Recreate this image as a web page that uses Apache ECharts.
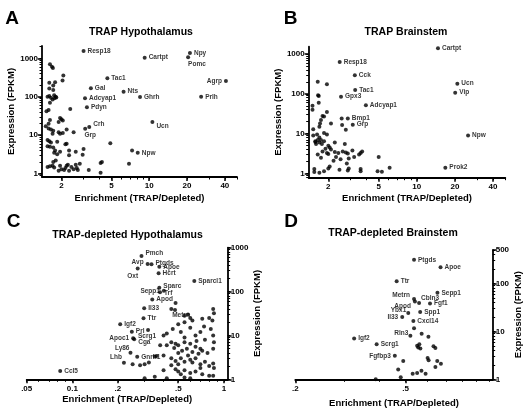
<!DOCTYPE html>
<html><head><meta charset="utf-8">
<script src="https://cdn.jsdelivr.net/npm/echarts@6/dist/echarts.min.js"></script>
<style>html,body{margin:0;padding:0;background:#fff}#c{width:525px;height:414px}</style>
</head><body><div id="c"></div>
<script>
// ---------------- DATA ----------------
// Panel A: TRAP Hypothalamus (labelled genes)
const namesA  = ['Resp18','Cartpt','Npy','Pomc','Agrp','Prlh','Tac1','Gal','Nts','Adcyap1','Ghrh','Pdyn','Crh','Grp','Ucn','Npw'];
const enrichA = [3.0, 9.2, 21.1, 20.4, 40.8, 25.9, 4.64, 3.43, 6.25, 3.08, 8.45, 3.19, 3.33, 3.09, 10.6, 8.1];
const exprA   = [1550, 1040, 1380, 1070, 257, 100, 302, 166, 136, 91, 99, 53, 16.4, 14.8, 22, 3.5];
// Panel A: other genes [enrichment, expression]
const otherA = [[1.62,700],[1.68,600],[1.71,560],[2.07,360],[2.04,265],[1.6,230],[1.72,195],[1.78,240],[1.6,165],[1.72,150],
 [1.55,100],[1.6,105],[1.65,95],[1.75,110],[1.8,100],[1.7,85],[1.76,92],[1.62,70],[1.82,96],
 [1.52,42],[1.58,45],[2.35,48],
 [1.95,28],[2.0,26],[1.9,22],[2.05,24],[1.62,25],[1.58,20],
 [1.5,17],[1.58,15],[1.65,14],[1.72,13],[1.7,11],[1.9,12],[1.95,11],[2.05,11.5],[2.2,14],[2.5,12],
 [1.55,7.5],[1.6,7],[1.65,6.5],[1.62,5],[1.55,5.2],[1.72,4.8],[1.78,4],[1.85,6.8],[2.2,6],[2.15,5.8],
 [1.75,3.5],[1.85,3.2],[1.95,3.7],[2.3,4],[2.3,3],[2.6,3.7],[2.95,3.1],[3.0,4.4],[4.9,6.2],[7.3,4.0],[6.9,1.8],[4.1,1.9],[4.2,2.0],
 [1.55,1.5],[1.62,1.55],[1.7,1.6],[1.75,1.45],[1.72,2.0],[1.95,1.6],[2.0,1.3],[2.1,1.25],[2.15,1.4],[2.2,1.6],[2.3,1.2],[2.4,1.5],
 [2.5,1.3],[2.6,1.7],[2.65,1.4],[2.7,1.25],[3.3,1.25],[4.1,1.05],[1.9,1.2],[2.25,1.7],[2.8,1.8],[1.8,2.2]];

// Panel B: TRAP Brainstem
const namesB  = ['Cartpt','Resp18','Cck','Ucn','Tac1','Vip','Gpx3','Adcyap1','Bmp1','Grp','Npw','Prok2'];
const enrichB = [14.7, 2.46, 3.24, 20.9, 3.26, 20.1, 2.52, 3.96, 2.85, 3.12, 25.4, 16.8];
const exprB   = [1390, 630, 293, 180, 125, 107, 85, 52, 24, 16.9, 9.0, 1.41];
const otherB = [[1.65,200],[1.95,175],[1.66,92],[1.68,88],[1.68,60],[1.5,50],[1.5,40],[1.95,35],[1.8,28],[1.85,27],[1.75,22],[1.72,18],
 [1.7,15],[1.52,13],[2.1,18],[2.55,24],[2.57,16.5],[2.75,12.5],[1.52,9],[1.63,9.5],[1.85,10.5],[1.95,9.5],[1.58,6.5],[1.65,7],
 [1.7,6],[1.78,5.5],[1.85,6.5],[2.0,5],[2.05,4.5],[2.25,6],[2.7,5.5],[1.65,3],[1.8,3.6],[1.95,3.3],[2.1,4],[2.25,3.5],[2.4,3.3],
 [2.6,3.6],[2.75,3.4],[2.85,3.2],[3.1,3.8],[3.5,3],[3.6,3.3],[3.7,3.6],[2.3,2.6],[2.5,2.3],[2.9,2.4],[3.2,2.6],[2.8,1.8],[5.0,2.6],
 [1.55,1.3],[1.55,1.1],[1.7,1.05],[1.85,1.15],[2.0,1.35],[2.05,1.5],[2.45,1.25],[2.85,1.2],[2.9,1.35],[3.6,1.3],[3.6,1.15],
 [4.9,1.15],[5.3,1.12],[6.1,1.4],[1.75,2.5],[2.2,2.1],[1.6,5.5],[1.58,6.2],[1.7,8],[1.75,7],[1.9,4.2],[2.0,3.1]];

// Panel C: TRAP-depleted Hypothalamus
const namesC  = ['Pmch','Avp','Ptgds','Apoe','Oxt','Hcrt','Sparcl1','Sepp1','Sparc','Trf','Apod','Il33','Ttr','Metrn','Igf2','Prl','Scrg1','Apoc1','Cga','Ly86','Gnrh1','Lhb','Ccl5'];
const enrichC = [0.286, 0.314, 0.333, 0.375, 0.27, 0.371, 0.638, 0.402, 0.375, 0.379, 0.337, 0.298, 0.295, 0.476, 0.207, 0.247, 0.316, 0.252, 0.256, 0.242, 0.268, 0.219, 0.0832];
const exprC   = [645, 425, 420, 367, 337, 260, 173, 104, 122, 96, 66, 41.5, 24.5, 38, 17.9, 12.2, 13.3, 8.6, 8.2, 4.04, 3.27, 2.39, 1.55];
const otherC = [[0.45,40],[0.48,55],[0.55,28],[0.6,25],[0.62,22],[0.72,24],[0.85,40],[0.86,32],[0.84,22],[0.8,25],[0.58,30],
 [0.4,10],[0.42,11],[0.46,14],[0.5,18],[0.52,12],[0.55,9],[0.6,15],[0.65,10],[0.7,12],[0.75,8],[0.85,10],[0.86,7],[0.45,7],
 [0.48,6.5],[0.5,6],[0.55,7],[0.6,6.5],[0.65,5.5],[0.7,5],[0.72,4.5],[0.78,4],[0.85,5],[0.38,6],[0.42,6],
 [0.3,2.2],[0.32,2.4],[0.28,2.1],[0.35,3.3],[0.36,3.4],[0.4,3.5],[0.45,3],[0.48,2.6],[0.5,2.2],[0.52,3],[0.55,2.5],[0.58,3.5],
 [0.6,2.8],[0.62,2.4],[0.65,3],[0.7,2.2],[0.75,2.5],[0.8,2],[0.85,2.3],[0.86,1.8],[0.45,2.1],[0.48,1.7],[0.5,1.5],[0.52,1.3],
 [0.55,1.6],[0.6,1.4],[0.65,1.5],[0.7,1.8],[0.72,1.3],[0.8,1.2],[0.3,1.05],[0.35,1.15],[0.42,1.05],[0.55,1.1],[0.6,1.05],[0.85,1.2],
 [0.25,2.2],[0.4,1.6],[0.53,4.5],[0.57,5],[0.62,4.2],[0.68,3.8],[0.5,4],[0.47,5.2],[0.66,7.5],[0.74,16],[0.82,14],[0.55,20]];

// Panel D: TRAP-depleted Brainstem
const namesD  = ['Ptgds','Apoe','Ttr','Sepp1','Metrn','Cbln3','Fgf1','Apod','Ybx1','Spp1','Il33','Cxcl14','Rln3','Igf2','Scrg1','Fgfbp3'];
const enrichD = [0.536, 0.668, 0.464, 0.651, 0.536, 0.559, 0.612, 0.54, 0.511, 0.564, 0.486, 0.533, 0.52, 0.326, 0.393, 0.457];
const exprD   = [312, 219, 111, 64, 47.5, 39, 38, 42, 24.2, 25.4, 20, 16.4, 8.1, 7.1, 5.4, 3.1];
const otherD = [[0.536,11.6],[0.571,8.9],[0.604,7.7],[0.55,5],[0.555,4.6],[0.56,5.4],[0.565,4.4],[0.63,4.9],[0.64,4.5],
 [0.6,2.8],[0.605,2.5],[0.65,2.4],[0.67,2.1],[0.64,1.8],[0.49,2.4],[0.47,1.6],[0.48,1.1],[0.53,1.3],[0.55,1.35],[0.57,1.5],[0.59,1.3],[0.39,1.0]];

// Axis ticks and labels
const xTicksAB = [2, 5, 10, 20, 40];
const xLabelsAB = ['2', '5', '10', '20', '40'];
const yTicksABC = [1, 10, 100, 1000];
const yLabelsABC = ['1', '10', '100', '1000'];
const xTicksC = [0.05, 0.1, 0.2, 0.5, 1];
const xLabelsC = ['.05', '0.1', '.2', '.5', '1'];
const xTicksD = [0.2, 0.5];
const xLabelsD = ['.2', '.5'];
const yTicksD = [1, 10, 100, 500];
const yLabelsD = ['1', '10', '100', '500'];

// ---------------- STYLE / LAYOUT ----------------
const FONT = '"Liberation Sans", Arial, Helvetica, sans-serif';
const panels = [
  {grid:{left:42, top:46, width:195, height:131}, xr:[1.4,50], yr:[0.82,2090], yPos:'left',
   xt:xTicksAB, xl:xLabelsAB, yt:yTicksABC, yl:yLabelsABC, xGap:16, yGap:15},
  {grid:{left:308.7, top:46.7, width:196.6, height:131}, xr:[1.4,50], yr:[0.79,1520], yPos:'left',
   xt:xTicksAB, xl:xLabelsAB, yt:yTicksABC, yl:yLabelsABC, xGap:16, yGap:15},
  {grid:{left:26.7, top:247.7, width:201, height:131.6}, xr:[0.05,1.06], yr:[1,1000], yPos:'right',
   xt:xTicksC, xl:xLabelsC, yt:yTicksABC, yl:yLabelsABC, xGap:15, yGap:21},
  {grid:{left:295.3, top:250, width:197.4, height:129.3}, xr:[0.2,1.03], yr:[1,500], yPos:'right',
   xt:xTicksD, xl:xLabelsD, yt:yTicksD, yl:yLabelsD, xGap:19, yGap:21}
];
const labelStyles = [
  {Pomc:{offset:[-4,7]}, Agrp:{position:'left'}, Crh:{offset:[0,-3]}, Grp:{position:'bottom', offset:[5,-1]}, Ucn:{offset:[0,4]}},
  {},
  {Pmch:{offset:[0,-3]}, Avp:{position:'left', offset:[0,-2]}, Oxt:{position:'bottom', offset:[-5,0]}, Sepp1:{position:'left'},
   Sparc:{offset:[0,-2]}, Trf:{offset:[0,1]}, Metrn:{position:'bottom', offset:[6,-2]}, Scrg1:{position:'bottom', offset:[-1,-1]},
   Apoc1:{position:'left'}, Cga:{offset:[0,3]}, Ly86:{position:'left', offset:[3,-4]}, Lhb:{position:'left', offset:[2,-5]}, Ptgds:{offset:[0,-1]}},
  {Metrn:{position:'left', offset:[0,-4]}, Cbln3:{offset:[-2,-5]}, Apod:{position:'left', offset:[0,5]}, Ybx1:{position:'left', offset:[2,-3]},
   Il33:{position:'left'}, Rln3:{position:'left', offset:[2,-3]}, Fgfbp3:{position:'left'}}
];
const labelled = [[namesA,enrichA,exprA],[namesB,enrichB,exprB],[namesC,enrichC,exprC],[namesD,enrichD,exprD]];
const others = [otherA, otherB, otherC, otherD];
const titles = ['TRAP Hypothalamus','TRAP Brainstem','TRAP-depleted Hypothalamus','TRAP-depleted Brainstem'];
const letters = ['A','B','C','D'];
const titlePos = [[141,32.5],[406,32.5],[127.5,235],[393,233.5]];
const letterPos = [[12,18.5],[290.5,18.5],[13.5,221.5],[291,221.5]];

function minorTicks(min, max) {
  const out = [];
  for (let e = Math.floor(Math.log10(min)); e <= Math.ceil(Math.log10(max)); e++) {
    for (let k = 1; k <= 9; k++) { const v = k * Math.pow(10, e); if (v >= min * 0.999 && v <= max * 1.001) out.push(v); }
  }
  return out;
}
function fmt(ticks, labels) {
  return v => { const i = ticks.findIndex(t => Math.abs(t - v) < t * 1e-3); return i >= 0 ? labels[i] : ''; };
}
const lbl = {fontFamily:FONT, fontWeight:'bold', fontSize:8, color:'#000'};
const nameStyle = {fontFamily:FONT, fontWeight:'bold', fontSize:9.5, color:'#000'};
const lineStyle = {color:'#000', width:1.8};

const xAxis = [], yAxis = [], series = [], graphic = [];
panels.forEach((p, g) => {
  xAxis.push({type:'log', logBase:10, gridIndex:g, position:'bottom', min:p.xr[0], max:p.xr[1],
    axisLine:{show:true, onZero:false, lineStyle}, splitLine:{show:false},
    axisTick:{show:true, length:4, customValues:p.xt, lineStyle:{color:'#000', width:1.5}},
    axisLabel:{show:true, customValues:p.xt, formatter:fmt(p.xt, p.xl), margin:5, ...lbl},
    name:'Enrichment (TRAP/Depleted)', nameLocation:'middle', nameGap:p.xGap, nameTextStyle:nameStyle});
  xAxis.push({type:'log', logBase:10, gridIndex:g, position:'top', offset:-p.grid.height, min:p.xr[0], max:p.xr[1],
    axisLine:{show:false, onZero:false}, splitLine:{show:false}, axisLabel:{show:false},
    axisTick:{show:true, inside:true, length:2.5, customValues:minorTicks(p.xr[0], p.xr[1]), lineStyle:{color:'#000', width:1}}});
  const yOpp = p.yPos === 'left' ? 'right' : 'left';
  yAxis.push({type:'log', logBase:10, gridIndex:g, position:p.yPos, min:p.yr[0], max:p.yr[1],
    axisLine:{show:true, onZero:false, lineStyle}, splitLine:{show:false},
    axisTick:{show:true, length:4, customValues:p.yt, lineStyle:{color:'#000', width:1.5}},
    axisLabel:{show:true, customValues:p.yt, formatter:fmt(p.yt, p.yl), margin:p.yPos==='left'?4:3, ...lbl},
    name:'Expression (FPKM)', nameLocation:'middle', nameGap:p.yGap, nameTextStyle:nameStyle});
  yAxis.push({type:'log', logBase:10, gridIndex:g, position:yOpp, offset:-p.grid.width, min:p.yr[0], max:p.yr[1],
    axisLine:{show:false, onZero:false}, splitLine:{show:false}, axisLabel:{show:false},
    axisTick:{show:true, inside:true, length:2.5, customValues:minorTicks(p.yr[0], p.yr[1]), lineStyle:{color:'#000', width:1}}});
  series.push({type:'scatter', xAxisIndex:2*g, yAxisIndex:2*g, data:others[g], symbol:'circle', symbolSize:4,
    itemStyle:{color:'#000'}, silent:true, z:3});
  const [nm, xs, ys] = labelled[g];
  series.push({type:'scatter', xAxisIndex:2*g, yAxisIndex:2*g, symbol:'circle', symbolSize:4, itemStyle:{color:'#000'}, z:4,
    label:{show:true, formatter:'{b}', position:'right', distance:2, fontFamily:FONT, fontWeight:'bold', fontSize:6.5, color:'#000'},
    data:nm.map((n, i) => ({name:n, value:[xs[i], ys[i]], label:Object.assign({}, labelStyles[g][n] || {})}))});
  graphic.push({type:'text', x:titlePos[g][0], y:titlePos[g][1],
    style:{text:titles[g], font:'bold 10.5px ' + FONT, fill:'#000', textAlign:'center', textVerticalAlign:'middle'}});
  graphic.push({type:'text', x:letterPos[g][0], y:letterPos[g][1],
    style:{text:letters[g], font:'bold 19px ' + FONT, fill:'#000', textAlign:'center', textVerticalAlign:'middle'}});
});

const chart = echarts.init(document.getElementById('c'), null, {renderer:'canvas'});
chart.setOption({animation:false, backgroundColor:'#fff', grid:panels.map(p => p.grid), xAxis, yAxis, series, graphic});
</script></body></html>
